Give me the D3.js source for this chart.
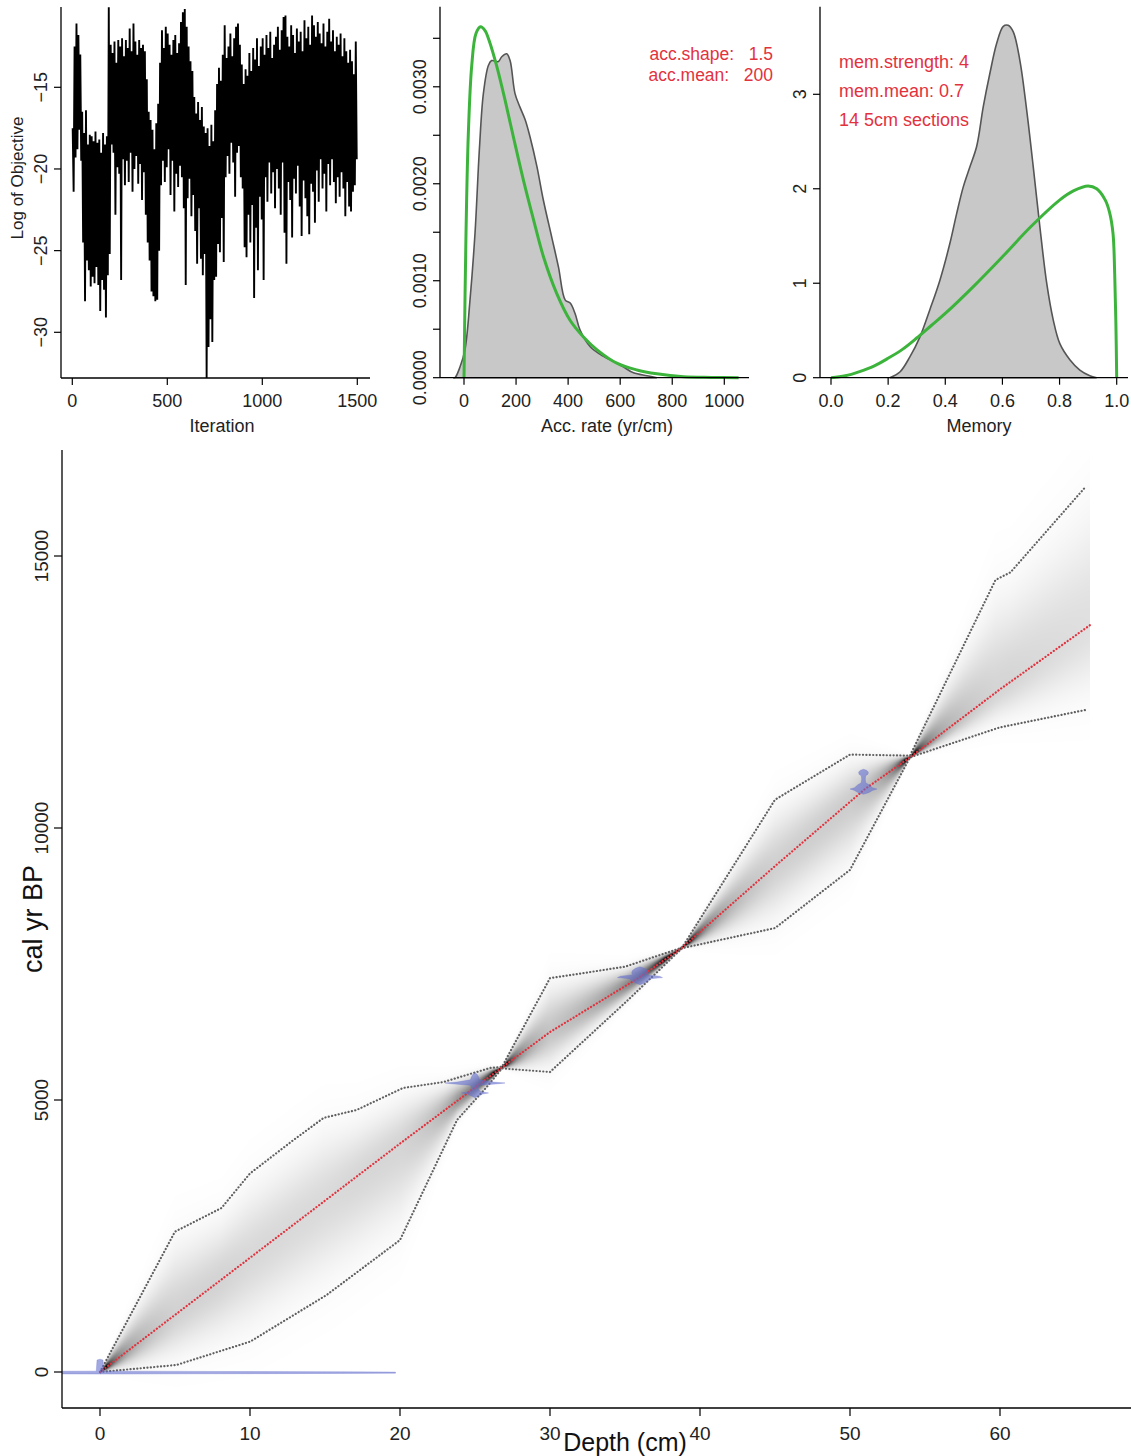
<!DOCTYPE html>
<html>
<head>
<meta charset="utf-8">
<script src="https://cdn.jsdelivr.net/npm/d3@7"></script>
<style>
  html, body { margin: 0; padding: 0; background: #fff; }
  svg { display: block; font-family: "Liberation Sans", Arial, Helvetica, sans-serif; }
</style>
</head>
<body>
<svg id="chart" width="1131" height="1456"></svg>
<script>
// ---- MCMC trace: log objective, (high, low) per block of 10 iterations ----
const traceHigh = [-17.5,-12.5,-11.1,-11.8,-13.0,-16.5,-17.8,-16.4,-18.5,-17.9,
  -18.0,-18.3,-17.7,-18.4,-18.2,-19.0,-17.8,-18.5,-18.0,-10.1,
  -12.4,-12.9,-12.2,-13.5,-12.1,-12.5,-12.0,-13.1,-12.1,-12.6,
  -11.4,-12.8,-11.1,-12.2,-13.0,-12.1,-12.6,-12.4,-12.8,-14.5,
  -16.5,-17.0,-17.6,-18.8,-17.2,-16.0,-13.5,-11.5,-12.6,-11.3,
  -11.7,-12.4,-13.0,-12.1,-11.8,-12.9,-12.3,-11.0,-10.4,-10.2,
  -11.3,-12.5,-13.4,-14.0,-15.6,-16.6,-15.9,-17.0,-16.2,-17.4,
  -17.8,-17.5,-18.6,-17.3,-18.3,-16.4,-14.8,-13.8,-14.6,-13.0,
  -11.2,-13.2,-12.5,-11.7,-13.1,-12.0,-11.3,-11.1,-12.4,-13.6,
  -14.8,-13.9,-14.3,-12.9,-14.0,-12.6,-13.3,-12.0,-13.7,-12.5,
  -12.0,-13.0,-11.8,-12.6,-11.6,-13.2,-12.4,-11.9,-11.3,-12.7,
  -11.5,-10.7,-10.6,-11.9,-12.5,-11.2,-11.8,-12.9,-11.4,-12.2,
  -11.6,-12.8,-10.9,-12.0,-11.3,-12.4,-10.6,-11.2,-11.9,-11.0,
  -11.7,-12.3,-11.1,-12.5,-11.6,-10.8,-12.2,-11.5,-12.8,-11.9,
  -12.4,-11.7,-13.1,-12.0,-12.8,-13.5,-12.7,-13.4,-14.2,-12.2];
const traceLow = [-21.4,-19.3,-18.8,-17.6,-19.5,-24.5,-28.1,-25.6,-26.2,-27.2,
  -26.6,-27.0,-26.0,-27.1,-28.7,-26.8,-27.4,-29.1,-26.5,-25.2,
  -18.5,-19.0,-22.8,-19.9,-20.3,-26.8,-19.4,-21.0,-19.5,-20.8,
  -19.0,-21.4,-20.0,-19.2,-20.9,-19.7,-21.9,-20.2,-22.8,-24.5,
  -25.6,-27.5,-27.8,-28.1,-28.0,-25.0,-21.0,-19.5,-20.8,-19.9,
  -18.8,-21.6,-19.5,-22.6,-20.3,-21.1,-19.8,-20.5,-22.4,-27.1,
  -21.8,-20.6,-22.9,-21.6,-23.8,-25.8,-22.4,-25.5,-26.5,-25.2,
  -32.8,-30.9,-29.2,-30.6,-26.8,-26.6,-24.6,-25.1,-23.0,-25.7,
  -20.5,-19.2,-20.3,-18.4,-19.6,-21.7,-19.0,-18.6,-20.5,-21.2,
  -24.8,-25.4,-22.8,-24.5,-22.2,-27.9,-23.6,-26.2,-21.7,-23.1,
  -26.8,-20.5,-22.0,-19.6,-21.5,-20.2,-22.4,-20.0,-21.2,-22.8,
  -19.6,-23.9,-25.8,-20.8,-21.9,-24.2,-20.6,-21.5,-19.8,-22.3,
  -24.1,-20.7,-21.8,-22.9,-24.0,-20.9,-21.4,-23.3,-20.1,-22.0,
  -19.4,-21.2,-20.3,-22.6,-19.7,-21.0,-19.4,-20.8,-22.1,-20.5,
  -21.7,-20.2,-21.2,-22.9,-20.8,-22.3,-22.6,-21.4,-21.0,-19.4];
const traceBlock = 10;
const iterTicks = [0, 500, 1000, 1500];
const objTicks = [-15, -20, -25, -30];

// ---- accumulation rate: posterior (grey) and prior (green) densities ----
const accPostX = [-41,-34.6,-15.4,3.8,23,42.3,59,74.4,93.6,106,132,145,164,177,196,215,235,254,280,305,337,363,389,408,427,446,485,536,587,613,651,703,741];
const accPostY = [0,0,0.00011,0.00029,0.0008,0.00149,0.00235,0.00293,0.00322,0.00327,0.00326,0.00331,0.00334,0.00327,0.00293,0.00279,0.00266,0.00248,0.00218,0.00183,0.00145,0.00114,0.0008,0.00077,0.00066,0.00049,0.00032,0.00022,0.00015,0.00011,0.00005,0.00002,0];
const accPriorX = [0,7.7,16.7,29.5,46,64,80.8,100,126,158,190,228,267,305,356,408,459,510,587,664,741,844,950,1055];
const accPriorY = [0,0.00149,0.00252,0.00321,0.00355,0.00362,0.00358,0.00345,0.00321,0.00286,0.00248,0.00204,0.00163,0.00125,0.00087,0.00059,0.00042,0.00029,0.00015,0.00008,0.00004,0.00001,0.000003,0];
const accTicksX = [0, 200, 400, 600, 800, 1000];
const accTicksY = [0, 0.0005, 0.001, 0.0015, 0.002, 0.0025, 0.003, 0.0035];
const accLabelsY = [0, 0.001, 0.002, 0.003];
const accText = ["acc.shape:\u00a0\u00a0\u00a01.5", "acc.mean:\u00a0\u00a0\u00a0200"];

// ---- memory: posterior (grey) and prior (green) densities ----
const memPostX = [0.206,0.241,0.276,0.311,0.346,0.381,0.416,0.44,0.463,0.486,0.51,0.533,0.556,0.58,0.603,0.62,0.638,0.661,0.685,0.708,0.731,0.755,0.778,0.801,0.836,0.871,0.906,0.93];
const memPostY = [0,0.06,0.22,0.43,0.72,1.03,1.42,1.74,2.02,2.23,2.45,2.87,3.22,3.54,3.72,3.73,3.66,3.36,2.83,2.23,1.60,1.0,0.61,0.36,0.19,0.08,0.02,0];
const memPriorX = [0,0.05,0.1,0.15,0.2,0.25,0.3,0.35,0.4,0.5,0.6,0.7,0.8,0.85,0.9,0.93,0.96,0.975,0.987,0.993,0.997,1.0];
const memPriorY = [0,0.02,0.065,0.123,0.206,0.3,0.42,0.55,0.68,0.97,1.28,1.6,1.88,1.98,2.03,2.0,1.88,1.75,1.53,1.1,0.6,0];
const memTicksX = [0, 0.2, 0.4, 0.6, 0.8, 1.0];
const memTicksY = [0, 1, 2, 3];
const memText = ["mem.strength: 4", "mem.mean: 0.7", "14 5cm sections"];

// ---- age-depth model ----
const meanDepth = [0, 10, 20, 26.8, 30, 36, 38.8, 45, 51, 54, 60, 66];
const meanAge   = [0, 2100, 4200, 5600, 6250, 7261, 7800, 9300, 10717, 11300, 12550, 13730];
const upperDepth = [0, 5, 8.1, 10, 12.9, 14.9, 17.1, 20.2, 22.9, 26, 26.8, 30, 35, 38.8, 45, 50, 54, 59.7, 60.7, 65.7];
const upperAge   = [0, 2580, 3015, 3650, 4265, 4670, 4816, 5221, 5331, 5588, 5610, 7240, 7450, 7800, 10520, 11350, 11330, 14560, 14700, 16270];
const lowerDepth = [0, 5.1, 10, 15.1, 20, 23.8, 25.8, 26.8, 30, 35.2, 38.8, 45, 50, 54, 60, 65.7];
const lowerAge   = [0, 129, 557, 1415, 2426, 4632, 5245, 5580, 5515, 6838, 7790, 8160, 9230, 11300, 11850, 12170];
const modelEnd = 66;

// calibrated dates: depth and [age, half-width in cm] outline
const dates = [
  { depth: 0, shape: [[-38,0],[-33,5.9],[-30,11.2],[-26,16.5],[-22,19.7],[-2,19.7],[3,16.5],[7,11.2],[11,5.9],[16,0.25],[220,0.2],[235,0]] },
  { depth: 25, shape: [[5040,0],[5070,0.2],[5110,0.5],[5129,0.9],[5150,0.4],[5200,0.2],[5270,0.3],[5300,1.6],[5313,2.0],[5330,1.2],[5370,0.3],[5420,0.25],[5470,0.15],[5500,0]] },
  { depth: 36, shape: [[7120,0],[7150,0.3],[7190,0.55],[7230,0.7],[7250,1.5],[7275,1.3],[7300,0.5],[7340,0.55],[7380,0.5],[7420,0.3],[7450,0]] },
  { depth: 50.9, shape: [[10620,0],[10650,0.35],[10690,0.6],[10717,0.9],[10740,0.6],[10790,0.4],[10830,0.15],[10900,0.12],[10960,0.15],[10990,0.3],[11030,0.32],[11060,0.2],[11080,0]] }
];
const depthTicks = [0, 10, 20, 30, 40, 50, 60];
const ageTicks = [0, 5000, 10000, 15000];

// ================================================================
const svg = d3.select("#chart");
const RED = "#e2323e", GREEN = "#3cb43c", GREY_FILL = "#c8c8c8", GREY_LINE = "#606060";
const fmtMinus = v => (v < 0 ? "\u2212" + Math.abs(v) : String(v));

function axisFrame(g, x0, x1, y0, y1) {
  g.append("line").attr("x1", x0).attr("x2", x1).attr("y1", y1).attr("y2", y1).attr("stroke", "#000").attr("stroke-width", 1.3);
  g.append("line").attr("x1", x0).attr("x2", x0).attr("y1", y0).attr("y2", y1).attr("stroke", "#000").attr("stroke-width", 1.3);
}
function xTicks(g, scale, ticks, yAxis, fmt, size, len, lab) {
  ticks.forEach(t => {
    g.append("line").attr("x1", scale(t)).attr("x2", scale(t)).attr("y1", yAxis).attr("y2", yAxis + len).attr("stroke", "#000").attr("stroke-width", 1.2);
    g.append("text").attr("x", scale(t)).attr("y", yAxis + lab).attr("text-anchor", "middle")
      .attr("font-size", size).attr("fill", "#222").text(fmt(t));
  });
}
function yTicks(g, scale, ticks, labels, xAxis, fmt, size, len, lab) {
  ticks.forEach(t => {
    g.append("line").attr("x1", xAxis - len).attr("x2", xAxis).attr("y1", scale(t)).attr("y2", scale(t)).attr("stroke", "#000").attr("stroke-width", 1.2);
  });
  labels.forEach(t => {
    g.append("text").attr("transform", `translate(${xAxis - lab},${scale(t)}) rotate(-90)`)
      .attr("text-anchor", "middle").attr("font-size", size).attr("fill", "#222").text(fmt(t));
  });
}

// ---------- panel 1: trace ----------
{
  const g = svg.append("g");
  const x = d3.scaleLinear().domain([0, 1500]).range([72.3, 357.3]);
  const y = d3.scaleLinear().domain([-15, -30]).range([87.3, 332.3]);
  const pts = [];
  traceHigh.forEach((h, i) => {
    pts.push([i * traceBlock + 2, h]);
    pts.push([i * traceBlock + 7, traceLow[i]]);
  });
  g.append("path").attr("d", d3.line().x(d => x(d[0])).y(d => y(d[1]))(pts))
    .attr("fill", "none").attr("stroke", "#000").attr("stroke-width", 1.9);
  axisFrame(g, 61, 370, 7, 378);
  xTicks(g, x, iterTicks, 378, String, 18, 7, 29);
  yTicks(g, y, objTicks, objTicks, 61, fmtMinus, 18, 7, 14);
  g.append("text").attr("x", 222).attr("y", 432).attr("text-anchor", "middle").attr("font-size", 18).attr("fill", "#222").text("Iteration");
  g.append("text").attr("transform", "translate(23,178) rotate(-90)").attr("text-anchor", "middle").attr("font-size", 17).attr("fill", "#222").text("Log of Objective");
}

// ---------- panel 2: accumulation rate ----------
{
  const g = svg.append("g");
  const x = d3.scaleLinear().domain([0, 1000]).range([464, 724.3]);
  const y = d3.scaleLinear().domain([0, 0.0035]).range([377.7, 38.3]);
  const post = accPostX.map((v, i) => [v, accPostY[i]]);
  g.append("path").attr("d", d3.area().x(d => x(d[0])).y0(y(0)).y1(d => y(d[1])).curve(d3.curveCatmullRom)(post))
    .attr("fill", GREY_FILL).attr("stroke", "#555").attr("stroke-width", 1.6);
  const prior = accPriorX.map((v, i) => [v, accPriorY[i]]);
  g.append("path").attr("d", d3.line().x(d => x(d[0])).y(d => y(d[1])).curve(d3.curveCatmullRom)(prior))
    .attr("fill", "none").attr("stroke", GREEN).attr("stroke-width", 3);
  axisFrame(g, 440, 749, 6.7, 377.7);
  xTicks(g, x, accTicksX, 377.7, String, 18, 7, 29);
  yTicks(g, y, accTicksY, accLabelsY, 440, d => d.toFixed(4), 18, 7, 14);
  accText.forEach((t, i) => g.append("text").attr("x", 773).attr("y", 60 + i * 21).attr("text-anchor", "end")
    .attr("font-size", 17.5).attr("fill", RED).text(t));
  g.append("text").attr("x", 607).attr("y", 432).attr("text-anchor", "middle").attr("font-size", 18).attr("fill", "#222").text("Acc. rate (yr/cm)");
}

// ---------- panel 3: memory ----------
{
  const g = svg.append("g");
  const x = d3.scaleLinear().domain([0, 1]).range([831, 1116.7]);
  const y = d3.scaleLinear().domain([0, 3]).range([377.7, 94.3]);
  const post = memPostX.map((v, i) => [v, memPostY[i]]);
  g.append("path").attr("d", d3.area().x(d => x(d[0])).y0(y(0)).y1(d => y(d[1])).curve(d3.curveCatmullRom)(post))
    .attr("fill", GREY_FILL).attr("stroke", "#555").attr("stroke-width", 1.6);
  const prior = memPriorX.map((v, i) => [v, memPriorY[i]]);
  g.append("path").attr("d", d3.line().x(d => x(d[0])).y(d => y(d[1])).curve(d3.curveCatmullRom)(prior))
    .attr("fill", "none").attr("stroke", GREEN).attr("stroke-width", 3);
  axisFrame(g, 820, 1128, 6.7, 377.7);
  xTicks(g, x, memTicksX, 377.7, d => d.toFixed(1), 18, 7, 29);
  yTicks(g, y, memTicksY, memTicksY, 820, String, 18, 7, 14);
  memText.forEach((t, i) => g.append("text").attr("x", 839).attr("y", 68 + i * 29)
    .attr("font-size", 18).attr("fill", RED).text(t));
  g.append("text").attr("x", 979).attr("y", 432).attr("text-anchor", "middle").attr("font-size", 18).attr("fill", "#222").text("Memory");
}

// ---------- main panel: age-depth model ----------
{
  const g = svg.append("g");
  const x = d3.scaleLinear().domain([0, 60]).range([100, 1000]);
  const y = d3.scaleLinear().domain([0, 15000]).range([1372, 556]);
  const plotL = 62, plotR = 1131, plotT = 450, plotB = 1408;

  g.append("clipPath").attr("id", "plotclip").append("rect")
    .attr("x", plotL).attr("y", plotT).attr("width", plotR - plotL).attr("height", plotB - plotT);

  const interp = (ds, as, d) => {
    const i = Math.max(1, Math.min(ds.length - 1, d3.bisectRight(ds, d)));
    const t = (d - ds[i - 1]) / (ds[i] - ds[i - 1]);
    return as[i - 1] + t * (as[i] - as[i - 1]);
  };

  // grey-scale density of the age-depth model, painted column by column
  const px0 = Math.round(x(0)), px1 = Math.round(x(modelEnd));
  const W = px1 - px0, top = plotT, H = plotB - plotT;
  const cv = document.createElement("canvas");
  cv.width = W; cv.height = H;
  const ctx = cv.getContext("2d");
  const img = ctx.createImageData(W, H);
  for (let c = 0; c < W; c++) {
    const d = x.invert(px0 + c + 0.5);
    const m = interp(meanDepth, meanAge, d);
    const lo = Math.min(interp(lowerDepth, lowerAge, d), m);
    const hi = Math.max(interp(upperDepth, upperAge, d), m);
    const sLo = Math.max((m - lo) / 2.1, 20), sHi = Math.max((hi - m) / 2.1, 20);
    const peak = Math.min(1, Math.pow(50 / ((sLo + sHi) / 2), 0.7));
    for (let r = 0; r < H; r++) {
      const a = y.invert(top + r + 0.5);
      const z = a < m ? (m - a) / sLo : (a - m) / sHi;
      const v = peak * Math.exp(-0.5 * z * z);
      const grey = Math.round(255 * (1 - v));
      const k = (r * W + c) * 4;
      img.data[k] = grey;
      img.data[k + 1] = grey;
      img.data[k + 2] = grey;
      img.data[k + 3] = 255;
    }
  }
  ctx.putImageData(img, 0, 0);
  g.append("image").attr("href", cv.toDataURL()).attr("x", px0).attr("y", top)
    .attr("width", W).attr("height", H).attr("clip-path", "url(#plotclip)");

  // 95% range and mean
  const lineFn = d3.line().x(d => x(d[0])).y(d => y(d[1]));
  [[upperDepth, upperAge], [lowerDepth, lowerAge]].forEach(([ds, as]) => {
    g.append("path").attr("d", lineFn(ds.map((d, i) => [d, as[i]])))
      .attr("fill", "none").attr("stroke", GREY_LINE).attr("stroke-width", 2.2)
      .attr("stroke-dasharray", "0.1 3.3").attr("stroke-linecap", "round");
  });
  g.append("path").attr("d", lineFn(meanDepth.map((d, i) => [d, meanAge[i]])))
    .attr("fill", "none").attr("stroke", RED).attr("stroke-width", 2.2)
    .attr("stroke-dasharray", "0.1 3.3").attr("stroke-linecap", "round");

  // calibrated dates
  const dg = g.append("g").attr("clip-path", "url(#plotclip)");
  dates.forEach(dt => {
    const right = dt.shape.map(([a, w]) => [x(dt.depth + w), y(a)]);
    const left = dt.shape.slice().reverse().map(([a, w]) => [x(dt.depth - w), y(a)]);
    dg.append("path").attr("d", d3.line()(right.concat(left)) + "Z")
      .attr("fill", "rgba(100,110,205,0.6)").attr("stroke", "rgba(100,110,205,0.5)").attr("stroke-width", 0.6);
  });

  // axes
  axisFrame(g, plotL, plotR, plotT, plotB);
  xTicks(g, x, depthTicks, plotB, String, 19, 8, 32);
  yTicks(g, y, ageTicks, ageTicks, plotL, String, 19, 8, 14);
  g.append("text").attr("x", 625).attr("y", 1451).attr("text-anchor", "middle").attr("font-size", 25).attr("fill", "#111").text("Depth (cm)");
  g.append("text").attr("transform", "translate(42,919) rotate(-90)").attr("text-anchor", "middle").attr("font-size", 27).attr("fill", "#111").text("cal yr BP");
}
</script>
</body>
</html>
